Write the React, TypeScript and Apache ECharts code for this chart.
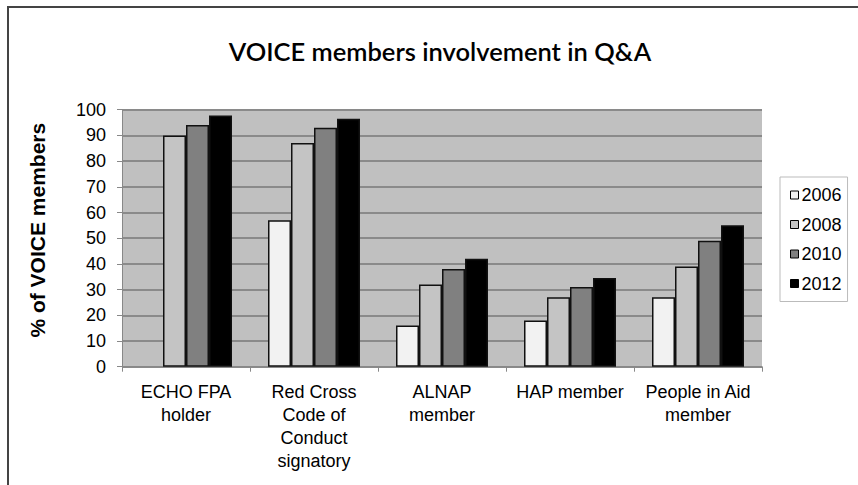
import React, { useEffect, useRef } from "react";
import * as echarts from "echarts";

const categories = [
  "ECHO FPA\nholder",
  "Red Cross\nCode of\nConduct\nsignatory",
  "ALNAP\nmember",
  "HAP member",
  "People in Aid\nmember",
];
const seriesNames = ["2006", "2008", "2010", "2012"];
const values2006 = [null, 57, 16, 18, 27];
const values2008 = [90, 87, 32, 27, 39];
const values2010 = [94, 93, 38, 31, 49];
const values2012 = [97.7, 96.5, 42, 34.5, 55];
const yTicks = { min: 0, max: 100, interval: 10 };
const colors = ["#f2f2f2", "#c4c4c4", "#808080", "#000000"];

const FONT = "'Liberation Sans', Arial, sans-serif";

export default function App() {
  const ref = useRef<HTMLDivElement>(null);
  useEffect(() => {
    if (!ref.current) return;
    const chart = echarts.init(ref.current, null, { renderer: "svg" });
    const data = [values2006, values2008, values2010, values2012];
    chart.setOption({
      animation: false,
      backgroundColor: "#ffffff",
      title: {
        text: "VOICE members involvement in Q&A",
        left: 435,
        top: 33,
        textAlign: "center",
        textStyle: {
          fontFamily: "Lato",
          fontWeight: 600,
          fontSize: 25.5,
          color: "#000",
        },
      },
      graphic: [
        {
          type: "rect",
          shape: { x: 8, y: 7, width: 1000, height: 700 },
          style: { fill: "none", stroke: "#444", lineWidth: 2 },
          silent: true,
        },
      ],
      legend: {
        orient: "vertical",
        left: 780,
        top: 177,
        padding: [9, 6, 9, 10],
        itemGap: 11.5,
        itemWidth: 8,
        itemHeight: 8,
        icon: "rect",
        backgroundColor: "#fff",
        borderColor: "#bbb",
        borderWidth: 1,
        textStyle: { fontFamily: FONT, fontSize: 18, color: "#000", padding: [0, 0, 0, -2] },
        itemStyle: { borderColor: "#000", borderWidth: 1 },
        data: seriesNames,
      },
      grid: {
        left: 122,
        right: 96,
        top: 109.7,
        bottom: 118.3,
        show: true,
        backgroundColor: "#c0c0c0",
        borderWidth: 0,
      },
      xAxis: {
        type: "category",
        data: categories,
        axisLine: { lineStyle: { color: "#888", width: 1 } },
        axisTick: { show: true, length: 5, interval: 0, lineStyle: { color: "#888" } },
        axisLabel: {
          interval: 0,
          margin: 14,
          fontFamily: FONT,
          fontSize: 18,
          lineHeight: 23,
          color: "#000",
        },
      },
      yAxis: {
        type: "value",
        min: yTicks.min,
        max: yTicks.max,
        interval: yTicks.interval,
        name: "% of VOICE members",
        nameLocation: "middle",
        nameGap: 74,
        nameTextStyle: {
          fontFamily: FONT,
          fontWeight: "bold",
          fontSize: 21,
          color: "#000",
          padding: [0, 0, 0, 16],
        },
        axisLine: { show: true, lineStyle: { color: "#888", width: 1 } },
        axisTick: { show: true, length: 5, lineStyle: { color: "#888" } },
        axisLabel: {
          margin: 16,
          fontFamily: FONT,
          fontSize: 18,
          color: "#000",
        },
        splitLine: { show: true, lineStyle: { color: "#8a8a8a", width: 2 } },
      },
      series: seriesNames.map((name, i) => ({
        name,
        type: "bar",
        data: data[i],
        barWidth: 23,
        barGap: "0%",
        itemStyle: { color: colors[i], borderColor: "#111", borderWidth: 1.5 },
      })),
    });
    return () => chart.dispose();
  }, []);
  return (
    <div
      ref={ref}
      style={{ position: "fixed", left: 0, top: 0, width: 858, height: 485 }}
    />
  );
}
